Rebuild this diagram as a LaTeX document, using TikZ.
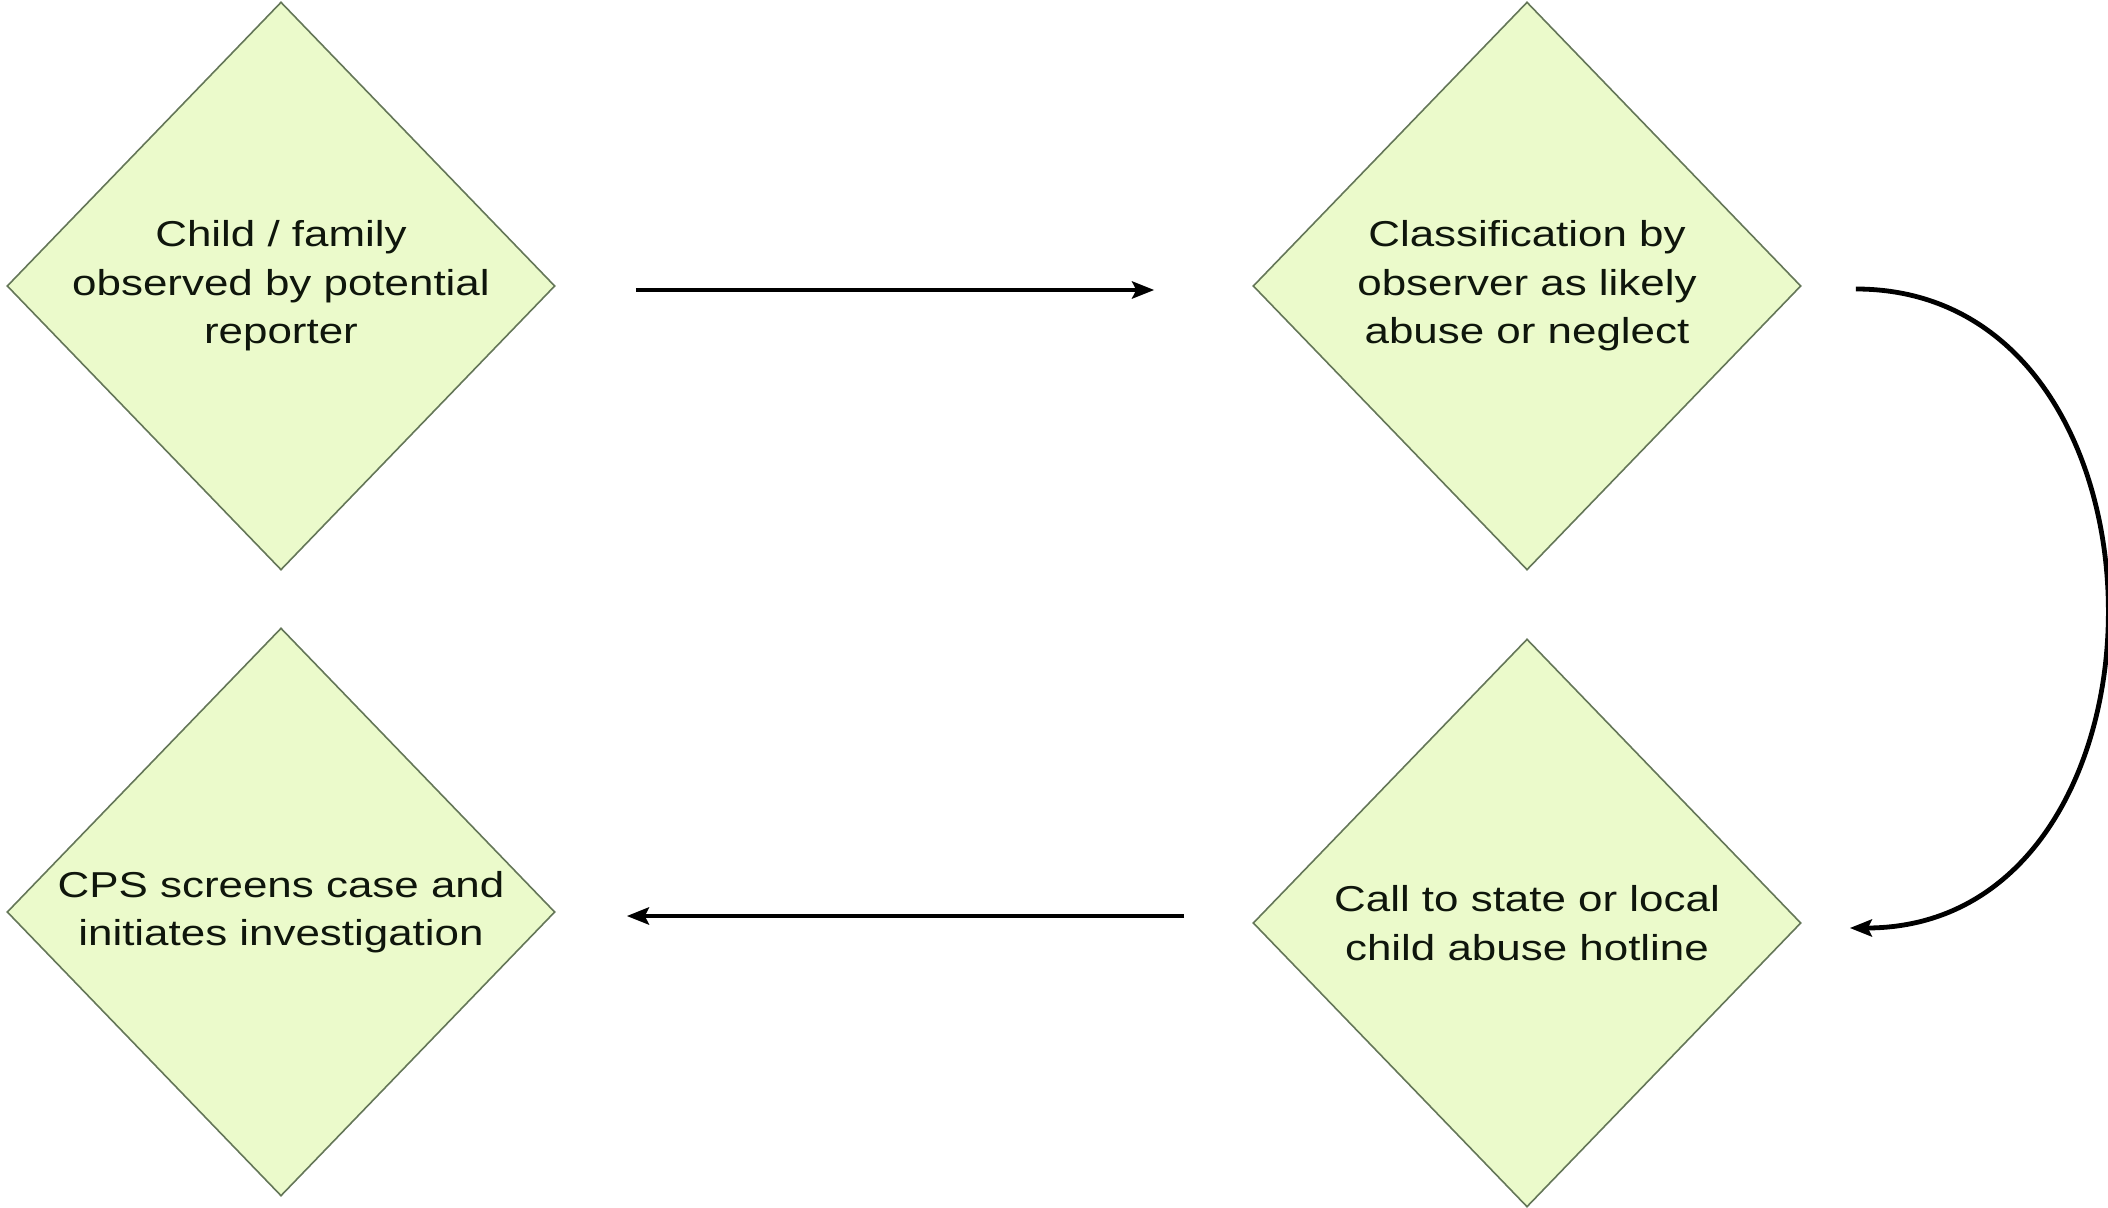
\documentclass[tikz,border=0pt]{standalone}
\usepackage{fontspec}
\setmainfont[FakeStretch=1.22]{Liberation Sans}
\usetikzlibrary{shapes.geometric,arrows.meta}
\definecolor{dfill}{RGB}{235,250,203}
\definecolor{dline}{RGB}{100,118,88}
\definecolor{txt}{RGB}{15,22,12}
\begin{document}
\begin{tikzpicture}[x=0.5pt,y=-0.5pt,
  dia/.style={diamond, draw=dline, fill=dfill, line width=0.8pt,
    minimum width=274pt, minimum height=284pt, inner sep=0pt},
  lbl/.style={align=center, text=txt, font=\fontsize{18}{24.2}\selectfont},
  flow/.style={line width=2.4pt, -{Stealth[length=11pt,width=8.5pt,inset=2pt]}}]
\useasboundingbox (0,0) rectangle (2108,1208);
\node[dia, label={[lbl]center:Child / family\\observed by potential\\reporter}] (d1) at (281,286) {};
\node[dia, label={[lbl]center:Classification by\\observer as likely\\abuse or neglect}] (d2) at (1527,286) {};
\node[dia, label={[lbl]center:CPS screens case and\\initiates investigation}] (d3) at (281,912) {};
\node[dia, label={[lbl]center:Call to state or local\\child abuse hotline}] (d4) at (1527,923) {};
\draw[flow, shorten <=40pt, shorten >=49pt] ([yshift=-2pt]d1.east) -- ([yshift=-2pt]d2.west);
\draw[flow] ([xshift=27pt,yshift=-1.5pt]d2.east) .. controls +(168pt,0) and +(170pt,0) .. ([xshift=24pt,yshift=-2.5pt]d4.east);
\draw[flow, shorten <=34pt, shorten >=35.5pt] ([yshift=3.5pt]d4.west) -- ([yshift=-2pt]d3.east);
\end{tikzpicture}
\end{document}
